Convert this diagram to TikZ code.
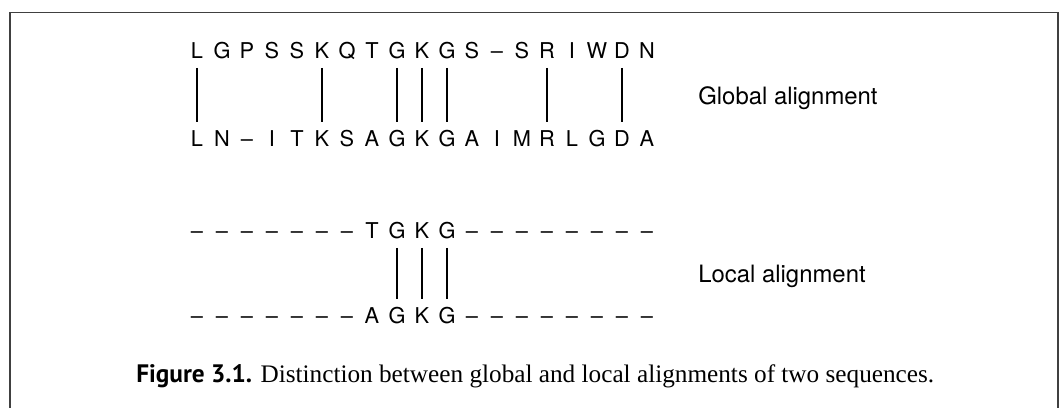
\documentclass[tikz,border=0pt]{standalone}
\usepackage{fontspec}
\setmainfont{Liberation Serif}
\newfontfamily\seqfont{TeX Gyre Heros}
\newfontfamily\capfont{PT Sans}
\usetikzlibrary{positioning}

\begin{document}
\begin{tikzpicture}[x=0.02cm, y=-0.02cm,
	res/.style={font=\seqfont\fontsize{12.4}{15}\selectfont, inner sep=0pt, text height=8.9pt, text depth=0pt},
	lbl/.style={font=\seqfont\fontsize{13.6}{16}\selectfont, anchor=base west, inner sep=0pt},
	pair/.style={line width=1.6pt, shorten <=5.3pt, shorten >=5.3pt}]
	\useasboundingbox (0,0) rectangle (1063,408);
	\draw[line width=1pt, black!75] (10,408) -- (10,12.5) -- (1058,12.5) -- (1058,408);

	% global
	\foreach \r [count=\i from 0] in {L,G,P,S,S,K,Q,T,G,K,G,S,–,S,R,I,W,D,N}
		\node[res] (ga\i) at (197+25*\i,50.5) {\r};
	\foreach \r [count=\i from 0] in {L,N,–,I,T,K,S,A,G,K,G,A,I,M,R,L,G,D,A}
		\node[res] (gb\i) at (197+25*\i,139) {\r};
	\foreach \i in {0,5,8,9,10,14,17}
		\draw[pair] (ga\i) -- (gb\i);
	\node[lbl] (glob) at (698,105) {Global alignment};

	% local
	\foreach \r [count=\i from 0] in {–,–,–,–,–,–,–,T,G,K,G,–,–,–,–,–,–,–,–}
		\node[res] (la\i) at (197+25*\i,230.5) {\r};
	\foreach \r [count=\i from 0] in {–,–,–,–,–,–,–,A,G,K,G,–,–,–,–,–,–,–,–}
		\node[res] (lb\i) at (197+25*\i,316) {\r};
	\foreach \i in {8,9,10}
		\draw[pair] (la\i) -- (lb\i);
	\node[lbl] (loc) at (698,283) {Local alignment};

	\node[anchor=base west, inner sep=0pt] (cap) at (136,383)
		{\resizebox{15.96cm}{!}{{\capfont\bfseries Figure 3.1.} Distinction between global and local alignments of two sequences.}};
\end{tikzpicture}
\end{document}
